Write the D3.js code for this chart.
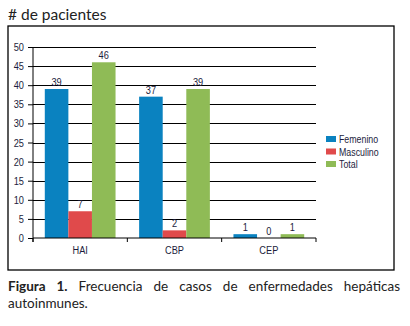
<!DOCTYPE html>
<html>
<head>
<meta charset="utf-8">
<script src="https://cdn.jsdelivr.net/npm/d3@7"></script>
<style>
  body { margin: 0; background: #fff; }
  #caption {
    position: absolute; left: 8px; top: 278px; width: 392px;
    font-family: Lato, "Open Sans", sans-serif; font-size: 13.5px;
    line-height: 17px; color: #222; text-align: justify;
  }
  #caption b { font-weight: 700; }
</style>
</head>
<body>
<svg id="chart" width="410" height="326"></svg>
<div id="caption"><b>Figura 1.</b> Frecuencia de casos de enfermedades hepáticas autoinmunes.</div>
<script>
const categories = ["HAI", "CBP", "CEP"];
const seriesNames = ["Femenino", "Masculino", "Total"];
const femenino = [39, 37, 1];
const masculino = [7, 2, 0];
const total = [46, 39, 1];
const yTicks = [0, 5, 10, 15, 20, 25, 30, 35, 40, 45, 50];

const colors = ["#0a82c0", "#e04a4b", "#8fbb56"];
const seriesValues = [femenino, masculino, total];

const svg = d3.select("#chart");
const labelFont = "'Liberation Sans', Arial, sans-serif";
const narrowK = 0.84;

// squeeze label text horizontally (reference uses a narrow font)
function narrow(sel) {
    sel.each(function() {
        const t = d3.select(this);
        const x0 = +t.attr("x") || 0;
        t.attr("x", x0 / narrowK).attr("transform", `scale(${narrowK},1)`);
    });
}

// title
svg.append("text")
    .attr("x", 8).attr("y", 20)
    .attr("font-family", "Lato, 'Open Sans', sans-serif")
    .attr("font-size", 15.5)
    .attr("fill", "#222")
    .text("# de pacientes");

// outer frame
svg.append("rect")
    .attr("x", 8).attr("y", 26)
    .attr("width", 386).attr("height", 244)
    .attr("fill", "none").attr("stroke", "#000").attr("stroke-width", 1.3);

const plotLeft = 33, plotRight = 316, plotTop = 47, plotBottom = 238;

const x = d3.scaleBand().domain(categories).range([plotLeft, plotRight]).paddingInner(0).paddingOuter(0);
const y = d3.scaleLinear().domain([0, 50]).range([plotBottom, plotTop]);
const xs = d3.scaleBand().domain(seriesNames).range([0, x.bandwidth()]).paddingInner(0).paddingOuter(0.5);

// gridlines
svg.append("g").selectAll("line")
    .data(yTicks.filter(d => d > 0))
    .join("line")
    .attr("x1", plotLeft).attr("x2", plotRight)
    .attr("y1", d => Math.round(y(d)) + 0.5).attr("y2", d => Math.round(y(d)) + 0.5)
    .attr("stroke", "#000").attr("stroke-width", 1);

// bars
const rows = categories.map((c, i) => seriesNames.map((s, j) => ({ cat: c, series: s, value: seriesValues[j][i], color: colors[j] })));

const groups = svg.append("g").selectAll("g")
    .data(rows)
    .join("g")
    .attr("transform", (d, i) => `translate(${x(categories[i])},0)`);

groups.selectAll("rect")
    .data(d => d)
    .join("rect")
    .attr("x", d => xs(d.series))
    .attr("width", xs.bandwidth())
    .attr("y", d => y(d.value))
    .attr("height", d => plotBottom - y(d.value))
    .attr("fill", d => d.color);

groups.selectAll("text")
    .data(d => d)
    .join("text")
    .attr("x", d => xs(d.series) + xs.bandwidth() / 2)
    .attr("y", d => y(d.value) - 3)
    .attr("text-anchor", "middle")
    .attr("font-family", labelFont)
    .attr("font-size", 11)
    .attr("fill", "#1c1c3c")
    .text(d => d.value)
    .call(narrow);

// y axis
const yAxis = svg.append("g")
    .attr("transform", `translate(${plotLeft},0)`)
    .call(d3.axisLeft(y).tickValues(yTicks).tickSize(5).tickPadding(4));
yAxis.select(".domain").attr("stroke", "#000").attr("d", `M0,${plotTop}V${plotBottom + 4}`);
yAxis.selectAll("text").attr("font-family", labelFont).attr("font-size", 11).attr("fill", "#1c1c3c").call(narrow);

// x axis
const xAxis = svg.append("g")
    .attr("transform", `translate(0,${plotBottom})`)
    .call(d3.axisBottom(x).tickSize(0).tickPadding(8));
xAxis.select(".domain").attr("stroke", "#000").attr("d", `M${plotLeft},0H${plotRight}`);
xAxis.selectAll("text").attr("font-family", labelFont).attr("font-size", 11).attr("fill", "#1c1c3c").call(narrow);
xAxis.append("g").selectAll("line")
    .data(x.domain().map(d => x(d)).concat([plotRight]))
    .join("line")
    .attr("x1", d => d).attr("x2", d => d)
    .attr("y1", 0).attr("y2", 4)
    .attr("stroke", "#000");

// legend
const legend = svg.append("g").attr("transform", "translate(326,136)");
const items = legend.selectAll("g")
    .data(seriesNames)
    .join("g")
    .attr("transform", (d, i) => `translate(0,${i * 12.5})`);
items.append("rect")
    .attr("width", 10).attr("height", 6)
    .attr("fill", (d, i) => colors[i]);
items.append("text")
    .attr("x", 13).attr("y", 7)
    .attr("font-family", labelFont)
    .attr("font-size", 10.5)
    .attr("fill", "#1c1c3c")
    .text(d => d)
    .call(narrow);
</script>
</body>
</html>
